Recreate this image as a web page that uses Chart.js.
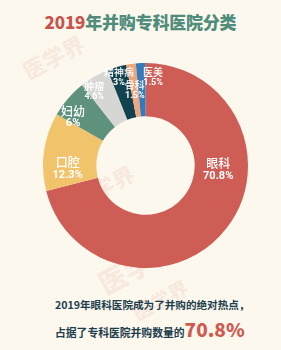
<!DOCTYPE html>
<html>
<head>
<meta charset="utf-8">
<script src="https://cdn.jsdelivr.net/npm/chart.js@4/dist/chart.umd.min.js"></script>
<style>
    body {
        margin: 0;
        width: 281px;
        height: 350px;
        background: #fcf8ee;
        position: relative;
        overflow: hidden;
        font-family: "Noto Sans CJK SC", sans-serif;
    }
    #title {
        position: absolute;
        top: 9px;
        left: 0;
        width: 281px;
        text-align: center;
        font-size: 17px;
        font-weight: 900;
        color: #4f8c7b;
        letter-spacing: -0.2px;
    }
    #title span { color: #c9544c; }
    #chartBox {
        position: absolute;
        left: 43px;
        top: 63px;
        width: 205px;
        height: 205px;
    }
    .note {
        position: absolute;
        left: 55px;
        font-weight: 700;
        color: #1d3e4c;
        white-space: nowrap;
    }
    #note1 { top: 297px; font-size: 10.6px; }
    #note2 { top: 315px; font-size: 10.8px; }
    #note2 b { color: #cf5a50; font-size: 19px; font-weight: 900; }
    .wm {
        position: absolute;
        font-weight: 900;
        color: rgba(215, 90, 80, 0.10);
        transform: rotate(-28deg);
        white-space: nowrap;
    }
</style>
</head>
<body>

<div class="wm" style="left:20px;top:40px;font-size:22px;">医学界</div>
<div class="wm" style="left:70px;top:170px;font-size:22px;">医学界</div>
<div class="wm" style="left:95px;top:245px;font-size:28px;">医学界</div>
<div class="wm" style="left:130px;top:285px;font-size:20px;">医学界</div>

<div id="title"><span>2019</span>年并购专科医院分类</div>

<div id="chartBox"><canvas id="pieChart"></canvas></div>

<div class="note" id="note1">2019年眼科医院成为了并购的绝对热点，</div>
<div class="note" id="note2">占据了专科医院并购数量的<b>70.8%</b></div>

<script>

// ======================================================
// Données
// ======================================================

const categories = ["眼科", "口腔", "妇幼", "肿瘤", "精神病", "骨科", "医美"];
const shares = [70.8, 12.3, 6, 4.6, 3, 1.5, 1.5];
const valueLabels = ["70.8%", "12.3%", "6%", "4.6%", "3%", "1.5%", "1.5%"];

// style des étiquettes (décalage d'angle en degrés, rayon relatif)
const labelShift = [-34.8, -9.9, -7.1, -4.7, -0.5, 0, 7.6];
const labelRadius = [0.71, 0.76, 0.85, 0.88, 0.90, 0.74, 0.86];
const labelSize = [12, 12, 12, 10, 10, 10, 10];

const colors = ["#cd5d55", "#f1c36b", "#5f927d", "#d6d6d4", "#11434f", "#f0a67c", "#3479b9"];


// ======================================================
// Étiquettes dans l'anneau
// ======================================================

const sliceLabels = {

    id: "sliceLabels",

    afterDatasetsDraw(chart) {

        const ctx = chart.ctx;
        const arcs = chart.getDatasetMeta(0).data;

        ctx.save();
        ctx.fillStyle = "#ffffff";
        ctx.textAlign = "center";
        ctx.textBaseline = "middle";

        arcs.forEach((arc, i) => {

            const mid = (arc.startAngle + arc.endAngle) / 2 + labelShift[i] * Math.PI / 180;
            const r = arc.outerRadius * labelRadius[i];
            const x = arc.x + r * Math.cos(mid);
            const y = arc.y + r * Math.sin(mid);
            const s = labelSize[i];

            ctx.font = "500 " + s + "px 'Noto Sans CJK SC'";
            ctx.fillText(categories[i], x, y - s * 0.5);

            ctx.font = "bold " + (s - 1) + "px 'Liberation Sans Narrow', 'Roboto', sans-serif";
            ctx.fillText(valueLabels[i], x, y + s * 0.55);

        });

        ctx.restore();

    }

};


// ======================================================
// Graphique
// ======================================================

new Chart(document.getElementById("pieChart"), {

    type: "doughnut",

    data: {

        labels: categories,

        datasets: [

            {

                data: shares,

                backgroundColor: colors,

                borderWidth: 0

            }

        ]

    },

    options: {

        responsive: true,

        maintainAspectRatio: false,

        animation: false,

        cutout: "48%",

        layout: { padding: 0 },

        plugins: {

            legend: { display: false },

            tooltip: { enabled: false }

        }

    },

    plugins: [sliceLabels]

});

</script>
</body>
</html>
